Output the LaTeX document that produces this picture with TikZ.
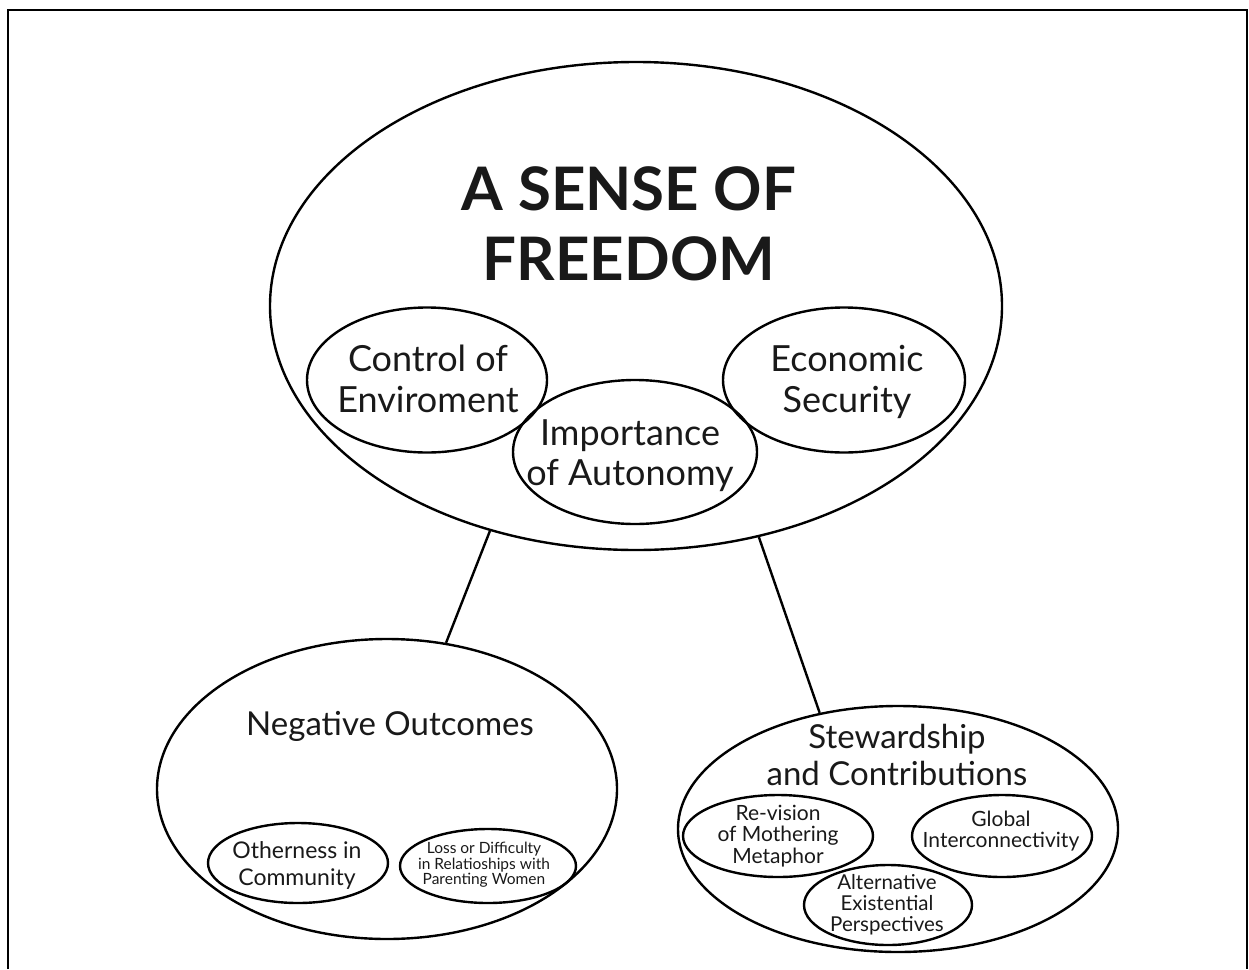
\documentclass[tikz,border=0pt]{standalone}
\usepackage{fontspec}
\setmainfont{Lato}
\usetikzlibrary{shapes.geometric}
\begin{document}
\begin{tikzpicture}[x=1pt,y=-1pt,
  oval/.style={ellipse,draw,line width=2.4pt,inner sep=0pt,minimum width=#1},
  lbl/.style={align=center,inner sep=0pt,text=black!90},
  link/.style={line width=2.4pt}]
\useasboundingbox (0,0) rectangle (1249,969);
% open frame
\draw[line width=2.5pt] (8,969) -- (8,10) -- (1247,10) -- (1247,969);

% main concept
\node[oval=732pt,minimum height=488pt] (big) at (636,306) {};
\node[lbl,font=\fontsize{60}{70}\selectfont\bfseries] (title) at (629,224) {A SENSE OF\\FREEDOM};

\node[oval=240pt,minimum height=145pt] (ctrl) at (427,380) {};
\node[lbl,font=\fontsize{36}{41}\selectfont] (ctrlt) at (428,379) {Control of\\Enviroment};

\node[oval=244pt,minimum height=144pt] (auto) at (635,452) {};
\node[lbl,font=\fontsize{36}{40}\selectfont] (autot) at (630,456) {Importance\\of Autonomy};

\node[oval=242pt,minimum height=145pt] (econ) at (844,380) {};
\node[lbl,font=\fontsize{36}{41}\selectfont] (econt) at (847,382) {Economic\\Security};

% negative outcomes
\node[oval=460pt,minimum height=300pt] (neg) at (387,789) {};
\node[lbl,font=\fontsize{33}{37}\selectfont] (negt) at (390,726) {Negative Outcomes};
\node[oval=180pt,minimum height=80pt] (oth) at (298,863) {};
\node[lbl,font=\fontsize{23}{27}\selectfont] (otht) at (297,865) {Otherness in\\Community};
\node[oval=176pt,minimum height=74pt] (loss) at (488,866) {};
\node[lbl,font=\fontsize{15.5}{15.5}\selectfont] (losst) at (484,865) {Loss or Difficulty\\in Relatioships with\\Parenting Women};

% stewardship and contributions
\node[oval=440pt,minimum height=246pt] (stew) at (898,829) {};
\node[lbl,font=\fontsize{33}{37}\selectfont] (stewt) at (897,755) {Stewardship\\and Contributions};
\node[oval=190pt,minimum height=82pt] (revi) at (778,836) {};
\node[lbl,font=\fontsize{21}{21.5}\selectfont] (revit) at (778,836) {Re-vision\\of Mothering\\Metaphor};
\node[oval=180pt,minimum height=82pt] (glob) at (1002,836) {};
\node[lbl,font=\fontsize{21}{21}\selectfont] (globt) at (1001,831) {Global\\Interconnectivity};
\node[oval=168pt,minimum height=80pt] (alt) at (888,905) {};
\node[lbl,font=\fontsize{20.5}{21}\selectfont] (altt) at (887,905) {Alternative\\Existential\\Perspectives};

% links
\draw[link] (big.-123.8) -- (neg.68.4);
\draw[link] (big.-62.2) -- (stew.124.2);
\end{tikzpicture}
\end{document}
